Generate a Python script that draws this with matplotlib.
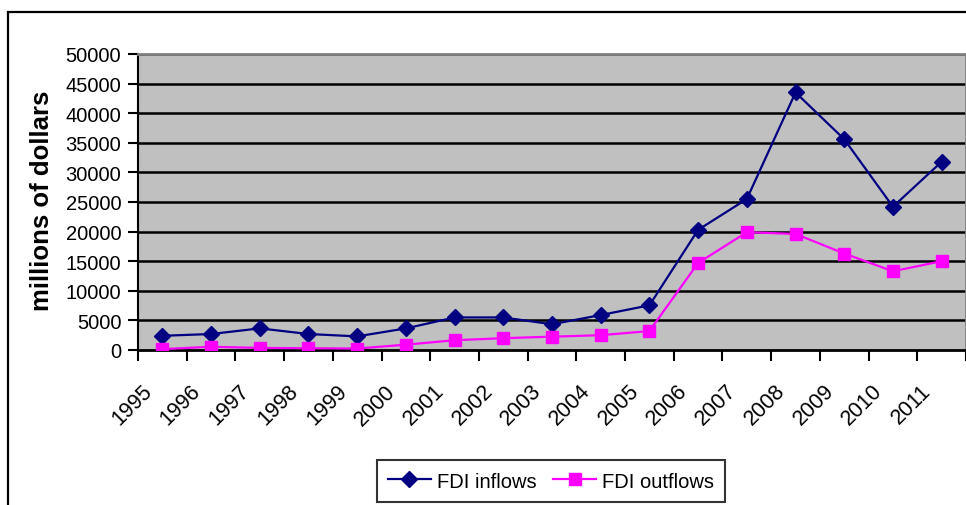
import numpy as np
import matplotlib
matplotlib.use('Agg')
import matplotlib.pyplot as plt
from matplotlib.patches import Rectangle
from matplotlib.transforms import ScaledTranslation

plt.rcParams['font.family'] = ['Liberation Sans', 'DejaVu Sans']

years = [str(y) for y in range(1995, 2012)]
fdi_inflows = [2400, 2700, 3650, 2700, 2300, 3650, 5500, 5500, 4350, 5900,
               7550, 20300, 25500, 43500, 35600, 24200, 31800]
fdi_outflows = [150, 550, 350, 300, 250, 900, 1650, 2000, 2250, 2500,
                3200, 14700, 19900, 19600, 16300, 13300, 15000]
y_ticks = list(range(0, 50001, 5000))

W, H = 966, 506
fig = plt.figure(figsize=(W / 100, H / 100), dpi=100)
ax = fig.add_axes([138 / W, 1 - 351 / H, (966 - 138) / W, (351 - 55) / H])

# outer chart frame (extends past right/bottom edge like the reference)
fig.add_artist(Rectangle((8 / W, -0.2), 1.5, 1.2 - 13 / H, transform=fig.transFigure,
                         fill=False, edgecolor='black', linewidth=1.6))

x = np.arange(len(years))
ax.set_facecolor('#c0c0c0')
for yv in y_ticks[1:]:
    ax.axhline(yv, color='black', linewidth=1.8, zorder=1)

ax.plot(x, fdi_inflows, color='#000080', marker='D', markersize=8, linewidth=1.6,
        label='FDI inflows', zorder=3)
ax.plot(x, fdi_outflows, color='#ff00ff', marker='s', markersize=8, linewidth=1.6,
        label='FDI outflows', zorder=3)

ax.set_xlim(-0.5, len(years) - 0.5)
ax.set_ylim(0, 50000)
ax.set_yticks(y_ticks)
ax.set_yticklabels([str(v) for v in y_ticks], fontsize=14.5)
ax.tick_params(axis='y', direction='out', length=7, width=1.5, pad=5)

ax.set_xticks(x)
ax.set_xticks(np.arange(-0.5, len(years), 1), minor=True)
ax.tick_params(axis='x', which='major', length=0, pad=0)
ax.tick_params(axis='x', which='minor', direction='out', length=8, width=1.5)
ax.set_xticklabels(years, rotation=45, ha='right', va='top', rotation_mode='anchor',
                   fontsize=15.5)
shift = ScaledTranslation(-0.21, -0.30, fig.dpi_scale_trans)
for lab in ax.get_xticklabels():
    lab.set_transform(lab.get_transform() + shift)

for side in ['top', 'right']:
    ax.spines[side].set_color('#808080')
    ax.spines[side].set_linewidth(2)
ax.spines['left'].set_linewidth(1.5)
ax.spines['bottom'].set_linewidth(2)

fig.text(42 / W, 1 - 201 / H, 'millions of dollars', rotation=90, ha='center', va='center',
         fontsize=18.5, fontweight='bold')

leg = fig.legend(loc='center', bbox_to_anchor=(551 / W, 1 - 482 / H), ncol=2, fontsize=14.5,
                 frameon=True, fancybox=False, edgecolor='black', handlelength=2.1,
                 columnspacing=0.85, handletextpad=0.3, borderpad=0.55)
leg.get_frame().set_linewidth(1.5)

fig.savefig('out.png', dpi=100)
